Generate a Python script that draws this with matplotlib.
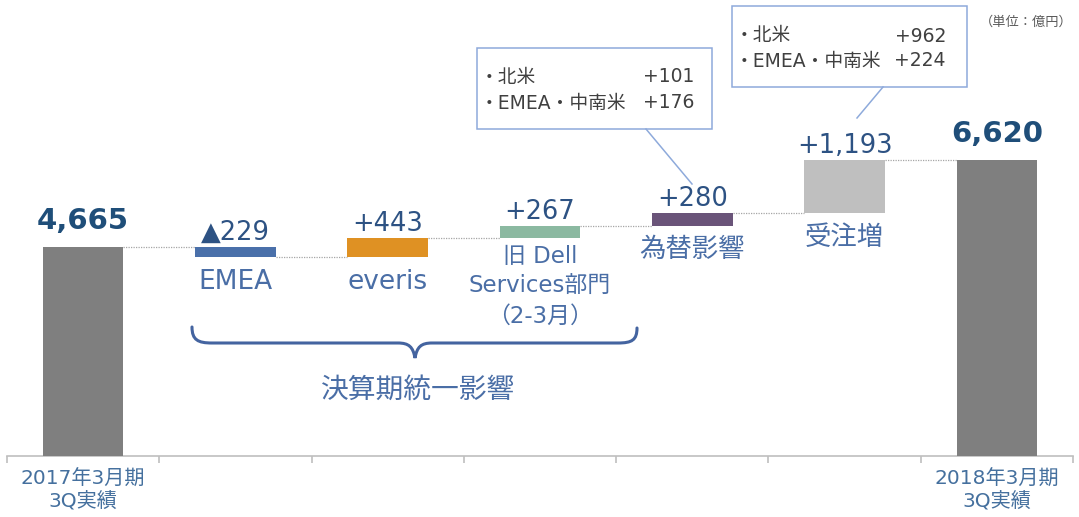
import numpy as np
import matplotlib.pyplot as plt
from matplotlib.path import Path
from matplotlib.patches import PathPatch, Rectangle

plt.rcParams['font.family'] = ['DejaVu Sans', 'Noto Sans CJK JP']

# data
categories = ['2017年3月期\n3Q実績', 'EMEA', 'everis', '旧 Dell\nServices部門\n（2-3月）',
              '為替影響', '受注増', '2018年3月期\n3Q実績']
values = [4665, -229, 443, 267, 280, 1193, 6620]
is_total = [True, False, False, False, False, False, True]
value_labels = ['4,665', '▲229', '+443', '+267', '+280', '+1,193', '6,620']
bar_colors = ['#7f7f7f', '#4a70aa', '#df9123', '#8bb9a1', '#6a5479', '#bfbfbf', '#7f7f7f']
box1_lines = [('・北米', '+101'), ('・EMEA・中南米', '+176')]
box2_lines = [('・北米', '+962'), ('・EMEA・中南米', '+224')]

W, H = 1079, 517
fig = plt.figure(figsize=(W / 100, H / 100), dpi=100)
ax = fig.add_axes([7 / W, 61 / H, 1066 / W, 456 / H])

x = np.arange(len(values))
bottoms, heights, tops = [], [], []
level = 0
for v, tot in zip(values, is_total):
    if tot:
        b, h = 0, v
        level = v
    else:
        b = level + min(v, 0)
        h = abs(v)
        level = level + v
    bottoms.append(b)
    heights.append(h)
    tops.append(b + h)

bw = 0.53
ax.bar(x, heights, bottom=bottoms, width=bw, color=bar_colors, zorder=3)

# connectors
level = 0
for i in range(len(values) - 1):
    level = values[i] if is_total[i] else level + values[i]
    ax.plot([x[i] + bw / 2, x[i + 1] - bw / 2], [level, level],
            color='#a6a6a6', lw=0.9, ls=(0, (1, 1)), zorder=2)

# value labels
for i in range(len(values)):
    if is_total[i]:
        ax.annotate(value_labels[i], (x[i], tops[i]), xytext=(0, 13), textcoords='offset points',
                    ha='center', va='baseline', fontsize=21, fontweight='bold', color='#1f4e79')
    else:
        ax.annotate(value_labels[i], (x[i], tops[i]), xytext=(0, 5), textcoords='offset points',
                    ha='center', va='baseline', fontsize=18.5, color='#2d5283')

# category labels under the delta bars
for i in range(1, len(values) - 1):
    if i == 3:
        ax.annotate(categories[i], (x[i], bottoms[i]), xytext=(0, -5), textcoords='offset points',
                    ha='center', va='top', fontsize=16.5, color='#4a6ea6', linespacing=1.4)
    else:
        ax.annotate(categories[i], (x[i], bottoms[i]), xytext=(0, -8.5), textcoords='offset points',
                    ha='center', va='top', fontsize=19, color='#4a6ea6')

ax.set_xlim(-0.5, len(values) - 0.5)
ax.set_ylim(0, 10187)
ax.set_yticks([])
for s in ['top', 'right', 'left']:
    ax.spines[s].set_visible(False)
ax.spines['bottom'].set_color('#bfbfbf')
ax.spines['bottom'].set_linewidth(1.2)
ax.set_xticks(x)
ax.set_xticklabels([categories[0]] + [''] * 5 + [categories[-1]], fontsize=14.5,
                   color='#45709e', linespacing=1.1)
ax.tick_params(axis='x', which='major', length=0, pad=10)
ax.set_xticks(np.arange(-0.5, len(values)), minor=True)
ax.tick_params(axis='x', which='minor', length=5, width=1.2, color='#bfbfbf')


def fx(px):
    return px / W


def fy(py):
    return 1 - py / H


# brace
verts = [(192, 327), (192, 340), (198, 343), (212, 343), (398, 343),
         (409, 343), (413, 347), (415, 358), (417, 347), (421, 343), (432, 343),
         (618, 343), (632, 343), (637, 340), (637, 328)]
codes = [Path.MOVETO, Path.CURVE4, Path.CURVE4, Path.CURVE4, Path.LINETO,
         Path.CURVE4, Path.CURVE4, Path.CURVE4, Path.CURVE4, Path.CURVE4, Path.CURVE4,
         Path.LINETO, Path.CURVE4, Path.CURVE4, Path.CURVE4]
brace = Path([(fx(a), fy(b)) for a, b in verts], codes)
fig.patches.append(PathPatch(brace, transform=fig.transFigure, fill=False,
                             edgecolor='#4464a0', lw=2.2, capstyle='round'))
fig.text(fx(418), fy(390), '決算期統一影響', ha='center', va='center', fontsize=20, color='#4a6ea6')


# callout boxes
def callout(x0, y0, x1, y1, lines, num_right, ys, leader):
    fig.patches.append(Rectangle((fx(x0), fy(y1)), fx(x1) - fx(x0), fy(y0) - fy(y1),
                                 transform=fig.transFigure, fill=True, facecolor='white',
                                 edgecolor='#8eaadb', lw=1.1))
    for (lab, num), yy in zip(lines, ys):
        fig.text(fx(x0 + 3), fy(yy), lab, ha='left', va='center', fontsize=13.5, color='#404040')
        fig.text(fx(num_right), fy(yy), num, ha='right', va='center', fontsize=13.5, color='#404040')
    (lx0, ly0), (lx1, ly1) = leader
    fig.lines.append(plt.Line2D([fx(lx0), fx(lx1)], [fy(ly0), fy(ly1)],
                                transform=fig.transFigure, color='#8eaadb', lw=1.1))


callout(477, 48, 712, 129, box1_lines, 694, [77, 103], ((646, 129), (692, 184)))
callout(732, 6, 967, 87, box2_lines, 946, [36, 61], ((883, 87), (857, 118)))

fig.text(fx(1073), fy(22), '（単位：億円）', ha='right', va='center', fontsize=9.5, color='#595959')

fig.savefig('out.png', dpi=100)
